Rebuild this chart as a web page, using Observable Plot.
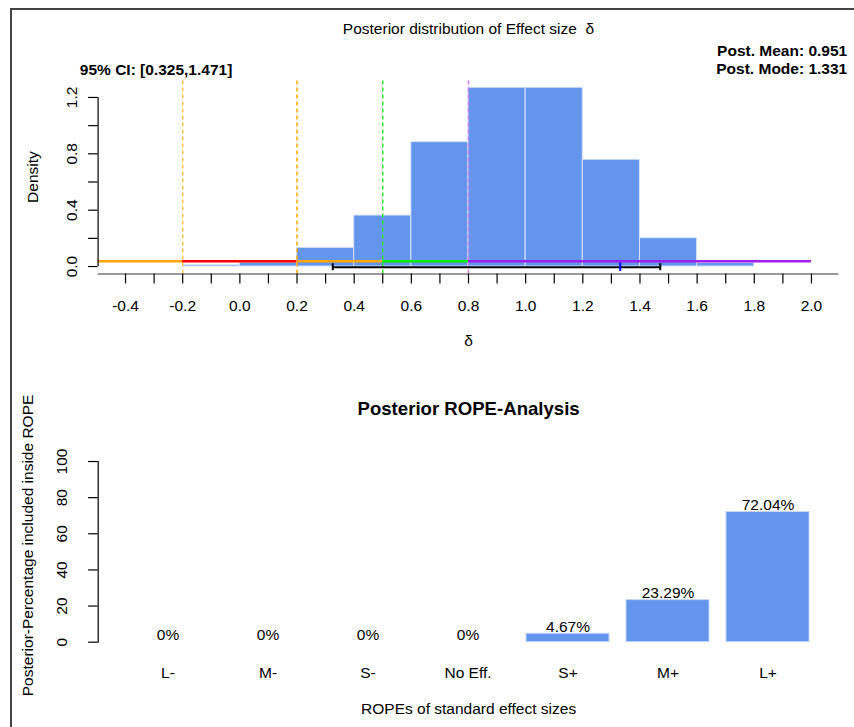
<!DOCTYPE html>
<html><head><meta charset="utf-8">
<script src="https://cdn.jsdelivr.net/npm/d3@7"></script>
<script src="https://cdn.jsdelivr.net/npm/@observablehq/plot@0.6"></script>
<style>
html,body{margin:0;padding:0;background:#fff;overflow:hidden;width:854px;height:727px;}
#wrap{position:relative;width:854px;height:727px;overflow:hidden;background:#fff;}
#frame{position:absolute;left:10px;top:8px;width:900px;height:800px;border-left:2px solid #444;border-top:2px solid #444;pointer-events:none;}
#top{position:absolute;left:0;top:0;}
#bottom{position:absolute;left:0;top:380px;}
svg{display:block}
</style></head><body>
<div id="wrap"><div id="top"></div><div id="bottom"></div><div id="frame"></div></div>
<script>
// ---------- data: posterior histogram of effect size ----------
const binLeft    = [-0.2, 0.0, 0.2, 0.4, 0.6, 0.8, 1.0, 1.2, 1.4, 1.6];
const binRight   = [ 0.0, 0.2, 0.4, 0.6, 0.8, 1.0, 1.2, 1.4, 1.6, 1.8];
const binDensity = [0.010, 0.028, 0.133, 0.362, 0.883, 1.269, 1.269, 0.758, 0.201, 0.025];

// ROPE segments drawn along the bottom
const ropeFrom  = [-0.5, -0.2, 0.2, 0.5, 0.8];
const ropeTo    = [-0.2,  0.2, 0.5, 0.8, 2.0];
const ropeColor = ["#FFA500", "#FF0000", "#FFA500", "#00EE00", "#A020F0"];
const ropeLevel = 0.038;

// dashed cut points
const cutPoints = [-0.2, 0.2, 0.5, 0.8];
const cutColor  = ["#FFC34D", "#FFA500", "#33E033", "#C57BF5"];
const cutTop    = 1.321;

const ciLow = 0.325, ciHigh = 1.471, postMean = 0.951, postMode = 1.331;

const xTicks = [-0.4,-0.3,-0.2,-0.1,0.0,0.1,0.2,0.3,0.4,0.5,0.6,0.7,0.8,0.9,1.0,1.1,1.2,1.3,1.4,1.5,1.6,1.7,1.8,1.9,2.0];
const xTickLabels = [-0.4,-0.2,0.0,0.2,0.4,0.6,0.8,1.0,1.2,1.4,1.6,1.8,2.0];
const yTicks = [0, 0.2, 0.4, 0.6, 0.8, 1.0, 1.2];
const yTickLabels = [0, 0.4, 0.8, 1.2];

// ---------- data: ROPE analysis ----------
const ropeCats = ["L-", "M-", "S-", "No Eff.", "S+", "M+", "L+"];
const ropePct  = [0, 0, 0, 0, 4.67, 23.29, 72.04];
const pctTicks = [0, 20, 40, 60, 80, 100];

// ---------- build tables ----------
const bins = binLeft.map((lo, i) => ({lo, hi: binRight[i], d: binDensity[i]}));
const ropes = ropeFrom.map((f, i) => ({from: f, to: ropeTo[i], c: ropeColor[i]}));
const cuts = cutPoints.map((v, i) => ({v, c: cutColor[i]}));
const ropeData = ropeCats.map((cat, i) => ({cat, pct: ropePct[i]}));

const FONT = "'Liberation Sans', Arial, Helvetica, sans-serif";
const xDom = [-0.496, 2.096];
const yDom = [-0.053, 1.38];

const topPlot = Plot.plot({
  width: 854, height: 380,
  marginLeft: 97.6, marginRight: 15.6, marginTop: 71.6, marginBottom: 106.5,
  x: {domain: xDom, axis: null, label: null},
  y: {domain: yDom, axis: null, label: null},
  color: {type: "identity"},
  style: {fontFamily: FONT, fontSize: "15.5px", background: "transparent", color: "black"},
  marks: [
    Plot.rectY(bins, {x1: "lo", x2: "hi", y1: 0, y2: "d", fill: "#6495ED", stroke: "#d8e3fa", strokeWidth: 1}),
    Plot.ruleX(cuts, {x: "v", y1: yDom[0], y2: cutTop, stroke: "c", strokeWidth: 1.5, strokeDasharray: "4,3"}),
    Plot.ruleY(ropes, {y: ropeLevel, x1: "from", x2: "to", stroke: "c", strokeWidth: 2.6, clip: true}),
    Plot.ruleY([0], {x1: ciLow, x2: ciHigh, stroke: "black", strokeWidth: 2, dy: 0.7}),
    Plot.ruleX([ciLow, ciHigh], {y1: 0, y2: 0, insetTop: -3.5, insetBottom: -3.5, stroke: "black", strokeWidth: 2, dy: 0.7}),
    Plot.ruleX([postMode], {y1: 0, y2: 0, insetTop: -4.3, insetBottom: -4.3, stroke: "#0000FF", strokeWidth: 2, dy: 0.7}),
    // axes
    Plot.ruleY([yDom[0]], {stroke: "#777", strokeWidth: 1.6}),
    Plot.axisX(xTicks, {tickSize: 10, tickFormat: () => "", strokeWidth: 1.2, label: null}),
    Plot.axisX(xTickLabels, {tickSize: 0, tickPadding: 26, tickFormat: d => d.toFixed(1), label: null}),
    Plot.ruleX([xDom[0]], {y1: 0, y2: 1.2, stroke: "black", strokeWidth: 1.2}),
    Plot.axisY(yTicks, {tickSize: 9.5, tickFormat: () => "", strokeWidth: 1.2, label: null}),
    Plot.axisY(yTickLabels, {tickSize: 0, tickRotate: -90, tickPadding: 21, tickFormat: d => d.toFixed(1), label: null}),
    // texts
    Plot.text(["Posterior distribution of Effect size  δ"], {frameAnchor: "top", lineAnchor: "bottom", dy: -38}),
    Plot.text([`95% CI: [${ciLow},${ciHigh}]`], {frameAnchor: "top-left", textAnchor: "start", lineAnchor: "bottom", dx: -18.3, dy: 3, fontWeight: "bold"}),
    Plot.text([`Post. Mean: ${postMean}`], {frameAnchor: "top-right", textAnchor: "end", lineAnchor: "bottom", dx: 8.3, dy: -16.6, fontWeight: "bold"}),
    Plot.text([`Post. Mode: ${postMode}`], {frameAnchor: "top-right", textAnchor: "end", lineAnchor: "bottom", dx: 8.3, dy: 1.7, fontWeight: "bold"}),
    Plot.text(["Density"], {frameAnchor: "left", rotate: -90, textAnchor: "middle", lineAnchor: "bottom", dx: -60.3, dy: 4}),
    Plot.text(["δ"], {frameAnchor: "bottom", lineAnchor: "bottom", dy: 71.5})
  ]
});
document.getElementById("top").appendChild(topPlot);

const bottomPlot = Plot.plot({
  width: 854, height: 347,
  marginLeft: 97.7, marginRight: 15.5, marginTop: 73.8, marginBottom: 78.1,
  x: {domain: ropeCats, axis: null, label: null, paddingInner: 0.1667, paddingOuter: 0.274},
  y: {domain: [-4, 104], axis: null, label: null},
  style: {fontFamily: FONT, fontSize: "15.5px", background: "transparent", color: "black"},
  marks: [
    Plot.barY(ropeData, {x: "cat", y1: 0, y2: "pct", fill: "#6495ED", stroke: "#c5d5f7", strokeWidth: 1}),
    Plot.text(ropeData, {x: "cat", y: "pct", text: d => `${d.pct}%`, lineAnchor: "bottom", dy: -2}),
    Plot.axisX({tickSize: 0, tickPadding: 17.5, label: null}),
    Plot.frame({anchor: "left", insetTop: 7.2, insetBottom: 7.2, stroke: "black", strokeWidth: 1.2}),
    Plot.axisY(pctTicks, {tickSize: 9.6, tickRotate: -90, tickPadding: 22, tickFormat: d => String(d), strokeWidth: 1.2, label: null}),
    Plot.text(["Posterior ROPE-Analysis"], {frameAnchor: "top", lineAnchor: "bottom", dy: -39.5, fontWeight: "bold", fontSize: 18.6}),
    Plot.text(["Posterior-Percentage included inside ROPE"], {frameAnchor: "left", rotate: -90, textAnchor: "middle", lineAnchor: "bottom", dx: -65, dy: -6.4}),
    Plot.text(["ROPEs of standard effect sizes"], {frameAnchor: "bottom", lineAnchor: "bottom", dy: 65})
  ]
});
document.getElementById("bottom").appendChild(bottomPlot);
</script>
</body></html>
